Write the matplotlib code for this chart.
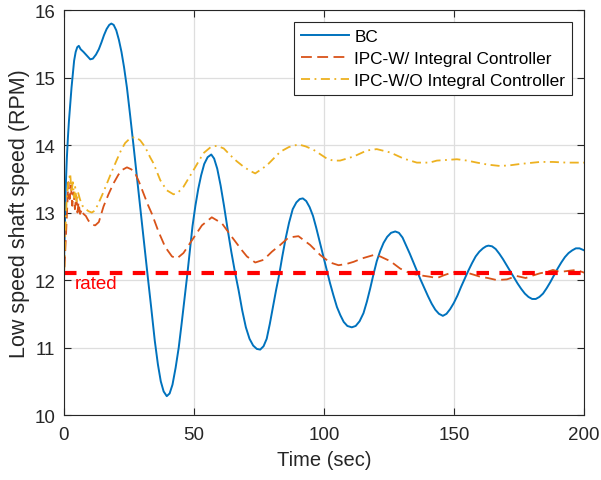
import matplotlib
matplotlib.use("Agg")
import matplotlib.pyplot as plt

plt.rcParams["font.family"] = ["Liberation Sans", "DejaVu Sans"]

# values (time in sec, speed in RPM)
t_bc = [0, 0.4, 0.8, 1.2, 1.6, 2.0, 2.5, 3.0, 3.5, 4.0, 4.6, 5.2, 5.8, 6.5, 7.6,
        9.0, 10.2, 11.2, 12.4, 13.5, 14.5, 15.5, 16.5, 17.5, 18.3, 19.2, 20.2, 21.2,
        22.2, 23.2, 24.3, 25.5, 26.8, 28.2, 29.6, 31.0, 32.3, 33.6, 35.0, 36.2, 37.3,
        38.4, 39.6, 40.7, 41.8, 43.0, 44.2, 45.3, 46.4, 47.4, 48.5, 49.5, 50.6, 51.7,
        52.8, 54.0, 55.3, 56.7, 57.8, 59.0, 60.3, 61.6, 63.0, 64.4, 65.8, 67.2, 68.6,
        70.0, 71.4, 72.8, 74.2, 75.5, 76.8, 78.0, 79.2, 80.4, 81.6, 82.8, 84.0, 85.3,
        86.6, 88.0, 89.4, 90.7, 91.9, 93.2, 94.5, 95.8, 97.0, 98.3, 99.6, 101.0,
        102.3, 103.6, 105.0, 106.3, 107.6, 109.0, 110.7, 112.2, 113.7, 115.2, 116.5,
        117.8, 119.0, 120.3, 121.6, 122.9, 124.3, 125.8, 127.4, 128.8, 130.2, 131.6,
        133.0, 134.4, 135.8, 137.2, 138.6, 140.0, 141.4, 142.8, 144.2, 145.7, 147.1,
        148.5, 149.9, 151.3, 152.7, 154.1, 155.5, 156.9, 158.3, 159.7, 161.1, 162.3,
        163.2, 164.6, 166.0, 167.4, 168.8, 170.2, 171.6, 173.0, 174.4, 175.8, 177.2,
        178.6, 180.0, 181.4, 182.8, 184.2, 185.6, 187.0, 188.4, 189.8, 191.2, 192.6,
        194.0, 195.4, 196.8, 198.2, 199.4, 200]
v_bc = [12.05, 12.7, 13.4, 13.8, 14.1, 14.35, 14.6, 14.85, 15.05, 15.25, 15.38,
        15.45, 15.47, 15.42, 15.38, 15.32, 15.27, 15.28, 15.34, 15.42, 15.52, 15.63,
        15.72, 15.78, 15.8, 15.78, 15.7, 15.56, 15.38, 15.15, 14.85, 14.45, 14.0,
        13.5, 13.0, 12.5, 12.05, 11.6, 11.1, 10.75, 10.5, 10.35, 10.28, 10.32, 10.45,
        10.7, 11.0, 11.35, 11.72, 12.05, 12.45, 12.8, 13.1, 13.35, 13.55, 13.72,
        13.82, 13.86, 13.8, 13.65, 13.4, 13.1, 12.75, 12.42, 12.12, 11.85, 11.55,
        11.3, 11.13, 11.03, 10.98, 10.97, 11.02, 11.13, 11.35, 11.6, 11.85, 12.08,
        12.35, 12.62, 12.85, 13.05, 13.15, 13.2, 13.21, 13.17, 13.08, 12.95, 12.78,
        12.58, 12.38, 12.17, 11.96, 11.78, 11.6, 11.48, 11.38, 11.32, 11.3, 11.32,
        11.39, 11.51, 11.68, 11.88, 12.08, 12.28, 12.43, 12.55, 12.64, 12.7, 12.72,
        12.7, 12.63, 12.51, 12.39, 12.26, 12.13, 12.0, 11.88, 11.76, 11.65, 11.56,
        11.5, 11.47, 11.5, 11.57, 11.66, 11.77, 11.9, 12.02, 12.14, 12.25, 12.35,
        12.42, 12.47, 12.5, 12.51, 12.5, 12.46, 12.39, 12.31, 12.22, 12.13, 12.04,
        11.95, 11.87, 11.8, 11.75, 11.72, 11.72, 11.75, 11.8, 11.88, 11.97, 12.07,
        12.17, 12.26, 12.34, 12.4, 12.44, 12.47, 12.47, 12.45, 12.44]

t_ipc_w = [0, 0.8, 1.5, 1.8, 2.3, 2.8, 3.3, 3.8, 4.3, 4.8, 5.3, 5.7, 6.3, 7, 7.6,
           8.5, 9.5, 11, 12.1, 13.5, 15.3, 17.2, 19.1, 21, 22.4, 24.3, 26, 27.5,
           29, 30.7, 32.3, 33.9, 36.4, 39, 41.6, 43.5, 46, 49.3, 53.1, 56.9, 60.8,
           64.6, 68.5, 70.4, 73.6, 76.8, 80, 83.2, 86.4, 90.2, 94.7, 98.6, 102.4,
           105.6, 108.8, 111.4, 114.6, 119, 121.6, 125.5, 129.3, 133.1, 137, 140.6,
           143.5, 146, 149.8, 152, 154.9, 157.5, 160, 163, 166.4, 170.3, 174.1,
           177.5, 180.5, 183, 185.7, 188, 190.8, 194.6, 197, 200]
v_ipc_w = [11.95, 12.6, 13.2, 13.45, 13.2, 13.4, 13.1, 13.3, 13.05, 13.25, 13.0,
           13.15, 12.98, 13.05, 12.98, 12.95, 12.88, 12.82, 12.81, 12.86, 13.09,
           13.27, 13.43, 13.56, 13.63, 13.67, 13.64, 13.58, 13.45, 13.28, 13.12,
           12.98, 12.72, 12.49, 12.35, 12.32, 12.4, 12.59, 12.81, 12.93, 12.84,
           12.64, 12.44, 12.35, 12.26, 12.3, 12.42, 12.52, 12.63, 12.65, 12.52,
           12.37, 12.26, 12.22, 12.24, 12.27, 12.32, 12.37, 12.35, 12.28, 12.17,
           12.1, 12.07, 12.05, 12.03, 12.07, 12.12, 12.1, 12.11, 12.08, 12.05,
           12.03, 12.0, 12.01, 12.06, 12.03, 12.07, 12.1, 12.12, 12.15, 12.12,
           12.14, 12.15, 12.11]

t_ipc_wo = [0, 0.6, 1.2, 1.8, 2.5, 3, 3.5, 4, 4.4, 5, 5.5, 6.3, 7.2, 8.3, 9.5, 10.8,
            12, 13.4, 15, 16.6, 18.5, 20.4, 22, 23.6, 25.5, 27.5, 29.4, 31.3, 33.2,
            34.5, 37.1, 39.6, 42.2, 44, 46, 49.9, 53.7, 56.5, 58.9, 61.5, 64, 66.5,
            69.1, 71.5, 73.6, 78.1, 83.2, 86.5, 90.2, 93, 96, 101.1, 103.5, 106.2,
            108.8, 111.4, 116.5, 120.3, 125.5, 130.6, 135.7, 140.6, 143.4, 147.5,
            151.1, 155, 158.8, 163, 167.7, 171.5, 175.4, 183.1, 188, 193.3, 200]
v_ipc_wo = [11.85, 12.7, 13.23, 13.45, 13.58, 13.3, 13.45, 13.22, 13.38, 13.15,
            13.3, 13.19, 13.1, 13.06, 13.02, 13.0, 13.03, 13.14, 13.28, 13.43,
            13.61, 13.78, 13.92, 14.03, 14.1, 14.12, 14.07, 13.97, 13.82, 13.73,
            13.48, 13.33, 13.27, 13.3, 13.38, 13.63, 13.88, 13.97, 13.99, 13.95,
            13.85, 13.76, 13.68, 13.62, 13.58, 13.7, 13.9, 13.97, 14.01, 13.98,
            13.93, 13.8, 13.77, 13.77, 13.8, 13.83, 13.92, 13.94, 13.89, 13.8,
            13.74, 13.74, 13.77, 13.78, 13.79, 13.77, 13.74, 13.71, 13.69, 13.7,
            13.72, 13.75, 13.75, 13.74, 13.74]

rated = 12.1
labels = ["BC", "IPC-W/ Integral Controller", "IPC-W/O Integral Controller"]

fig = plt.figure(figsize=(6.01, 4.81), dpi=100)
ax = fig.add_axes([0.106, 0.135, 0.866, 0.842])

ax.plot(t_bc, v_bc, color="#0072BD", lw=1.4, label=labels[0])
ax.plot(t_ipc_w, v_ipc_w, color="#D95319", lw=1.3, ls=(0, (6, 3)), label=labels[1])
ax.plot(t_ipc_wo, v_ipc_wo, color="#EDB120", lw=1.3, ls=(0, (5, 2.5, 1, 2.5)),
        label=labels[2])
ax.axhline(rated, color="#FF0000", lw=3, ls=(0, (3, 2.5)))
ax.text(4.3, rated - 0.02, "rated", color="#FF0000", fontsize=13.5, va="top", ha="left")

ax.set_xlim(0, 200)
ax.set_ylim(10, 16)
ax.set_xticks([0, 50, 100, 150, 200])
ax.set_yticks([10, 11, 12, 13, 14, 15, 16])
ax.grid(True, color="#dedede", lw=0.9)
ax.set_axisbelow(True)
ax.tick_params(direction="in", top=True, right=True, labelsize=13.5, colors="#262626",
               length=5, width=0.8)
ax.tick_params(axis="x", pad=8)
ax.tick_params(axis="y", pad=6)
for s in ax.spines.values():
    s.set_color("#262626")
    s.set_linewidth(0.8)
ax.set_xlabel("Time (sec)", fontsize=14.5, color="#262626", labelpad=5)
ax.set_ylabel("Low speed shaft speed (RPM)", fontsize=15.5, color="#262626", labelpad=3)

leg = ax.legend(loc="upper right", fontsize=12.4, handlelength=2.8, labelspacing=0.4,
                fancybox=False, framealpha=1, edgecolor="#262626",
                borderaxespad=0.7, handletextpad=0.3, borderpad=0.4)
leg.get_frame().set_linewidth(0.8)

fig.savefig("out.png", dpi=100)
